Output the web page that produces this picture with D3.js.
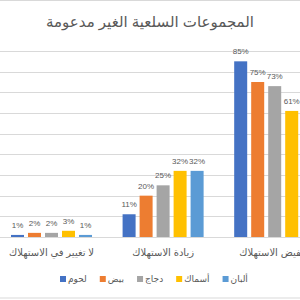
<!DOCTYPE html>
<html>
<head>
<meta charset="utf-8">
<script src="https://cdn.jsdelivr.net/npm/d3@7"></script>
<style>
  body { margin: 0; background: #fff; }
  svg { display: block; font-family: "Liberation Sans", "DejaVu Sans", sans-serif; }
</style>
</head>
<body>
<div id="chart"></div>
<script>
var title = "المجموعات السلعية الغير مدعومة";
var categories = ["لا تغيير في الاستهلاك", "زيادة الاستهلاك", "تخفيض الاستهلاك"];
var series = ["لحوم", "بيض", "دجاج", "أسماك", "ألبان"];
var colors = ["#4472C4", "#ED7D31", "#A5A5A5", "#FFC000", "#5B9BD5"];
// values per series, one per category, percent
var meat = [1, 11, 85];
var eggs = [2, 20, 75];
var chicken = [2, 25, 73];
var fish = [3, 32, 61];
var dairy = [1, 32, 58];
var values = [meat, eggs, chicken, fish, dairy];
var yTicks = [0, 10, 20, 30, 40, 50, 60, 70, 80, 90];

var width = 300, height = 300;
var svg = d3.select("#chart").append("svg")
    .attr("width", width)
    .attr("height", height);

// chart border
svg.append("rect")
    .attr("x", -2).attr("y", 0.5)
    .attr("width", width + 4).attr("height", 297.5)
    .attr("fill", "#fff")
    .attr("stroke", "#d9d9d9");

svg.append("text")
    .attr("x", 150).attr("y", 27)
    .attr("text-anchor", "middle")
    .style("font-size", "15px")
    .style("fill", "#595959")
    .text(title);

var y = d3.scaleLinear().domain([0, 90]).range([237, 51]);
var x0 = d3.scaleBand().domain(categories).range([-4.3, 330.5])
    .paddingInner(0.274).paddingOuter(0.137);
var x1 = d3.scaleBand().domain(series).range([0, x0.bandwidth()])
    .paddingInner(0.235).paddingOuter(0);

// gridlines
svg.append("g")
    .selectAll("line")
    .data(yTicks)
    .enter().append("line")
    .attr("x1", 0).attr("x2", width)
    .attr("y1", function(d) { return Math.round(y(d)) + 0.5; })
    .attr("y2", function(d) { return Math.round(y(d)) + 0.5; })
    .attr("stroke", "#d9d9d9")
    .attr("stroke-width", 1);

var groups = svg.selectAll(".group")
    .data(categories)
    .enter().append("g")
    .attr("class", "group")
    .attr("transform", function(d) { return "translate(" + x0(d) + ",0)"; });

groups.each(function(cat, ci) {
    var g = d3.select(this);
    var rows = series.map(function(s, si) {
        return { name: s, value: values[si][ci], color: colors[si] };
    });
    g.selectAll("rect")
        .data(rows)
        .enter().append("rect")
        .attr("x", function(d) { return x1(d.name); })
        .attr("width", x1.bandwidth())
        .attr("y", function(d) { return y(d.value); })
        .attr("height", function(d) { return y(0) - y(d.value); })
        .attr("fill", function(d) { return d.color; });
    g.selectAll(".lbl")
        .data(rows)
        .enter().append("text")
        .attr("class", "lbl")
        .attr("x", function(d) { return x1(d.name) + x1.bandwidth() / 2; })
        .attr("y", function(d) { return y(d.value) - 7; })
        .attr("text-anchor", "middle")
        .style("font-size", "8px")
        .style("fill", "#595959")
        .text(function(d) { return d.value + "%"; });
});

// category labels
svg.append("g")
    .selectAll("text")
    .data(categories)
    .enter().append("text")
    .attr("x", function(d) { return x0(d) + x0.bandwidth() / 2; })
    .attr("y", 256)
    .attr("text-anchor", "middle")
    .style("font-size", "10px")
    .style("fill", "#595959")
    .text(function(d) { return d; });

// legend
var legend = svg.append("g");
var cx = 60;
series.forEach(function(s, i) {
    legend.append("rect")
        .attr("x", cx).attr("y", 276)
        .attr("width", 6).attr("height", 6)
        .attr("fill", colors[i]);
    var t = legend.append("text")
        .attr("x", cx + 8).attr("y", 282)
        .style("font-size", "9px")
        .style("fill", "#595959")
        .text(s);
    cx += 8 + t.node().getComputedTextLength() + 13;
});
</script>
</body>
</html>
